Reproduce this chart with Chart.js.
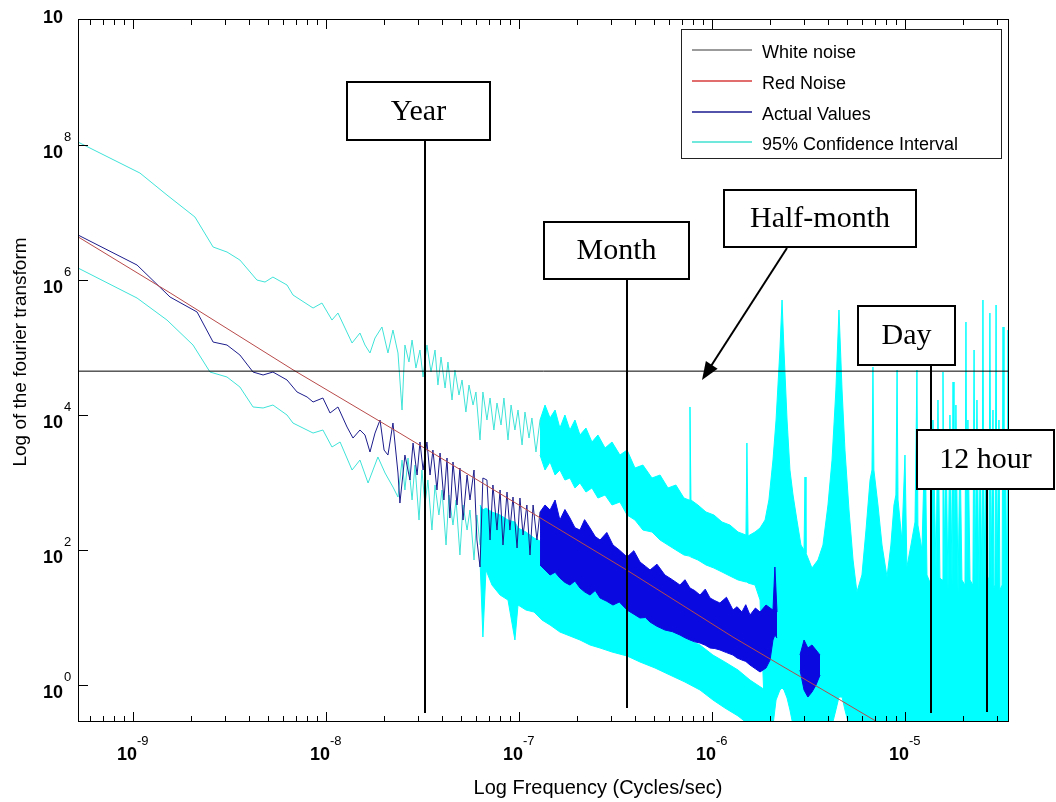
<!DOCTYPE html>
<html>
<head>
<meta charset="utf-8">
<title>Spectrum - log of the fourier transform</title>
<script src="https://cdn.jsdelivr.net/npm/chart.js@4.4.1/dist/chart.umd.min.js"></script>
<style>
  html, body { margin: 0; padding: 0; background: #fff; }
  #wrap { width: 1056px; height: 802px; }
</style>
</head>
<body>
<div id="wrap"><canvas id="spec" width="1056" height="802"></canvas></div>
<script>
// All readings are in decades (log10): [log10 freq, log10 power]
// bands are [log10 freq, low edge, high edge] of the dense noisy parts
const xRange = [-9.285, -4.461];
const yRange = [-0.548, 9.867];
const xTickExps = [-9, -8, -7, -6, -5];
const yTickExps = [0, 2, 4, 6, 8, 10];

const whiteNoise = [[-9.285, 4.65], [-4.461, 4.65]];

const redNoise = [
  [-9.285, 6.64], [-8.808, 5.81], [-8.171, 4.67], [-7.617, 3.73], [-6.440, 1.70],
  [-5.891, 0.71], [-5.648, 0.30], [-5.337, -0.22], [-4.461, -1.70],
];

const actualLine = [
  [-9.285, 6.667], [-8.979, 6.222], [-8.808, 5.748], [-8.668, 5.526], [-8.585, 5.081],
  [-8.513, 5.037], [-8.446, 4.889], [-8.378, 4.637], [-8.326, 4.593], [-8.275, 4.637],
  [-8.202, 4.519], [-8.150, 4.341], [-8.098, 4.267], [-8.067, 4.193], [-8.016, 4.252],
  [-7.979, 4.030], [-7.938, 4.119], [-7.891, 3.822], [-7.860, 3.659], [-7.824, 3.778],
  [-7.798, 3.704], [-7.772, 3.452], [-7.746, 3.733], [-7.720, 3.926], [-7.699, 3.481],
  [-7.679, 3.407], [-7.653, 3.881], [-7.627, 3.141], [-7.617, 2.696], [-7.591, 3.407],
  [-7.565, 3.037], [-7.549, 3.585], [-7.528, 3.111], [-7.513, 3.600], [-7.497, 3.185],
  [-7.477, 3.600], [-7.461, 3.111], [-7.446, 3.481], [-7.425, 2.889], [-7.409, 3.437],
  [-7.389, 2.741], [-7.373, 3.363], [-7.358, 2.474], [-7.342, 3.304], [-7.321, 2.667],
  [-7.306, 3.215], [-7.290, 2.444], [-7.269, 3.111], [-7.254, 2.741], [-7.233, 3.185],
  [-7.218, 2.148], [-7.202, 1.748], [-7.187, 3.067], [-7.166, 3.037], [-7.150, 2.148],
  [-7.135, 2.963], [-7.114, 2.296], [-7.098, 2.889], [-7.083, 2.074], [-7.062, 2.859],
  [-7.047, 2.296], [-7.031, 2.785], [-7.010, 2.030], [-6.995, 2.770], [-6.979, 2.222],
  [-6.959, 2.667], [-6.943, 1.926], [-6.927, 2.667], [-6.907, 2.148], [-6.891, 2.563],
];

const actualBand = [
  [-6.891, 1.778, 2.563], [-6.865, 1.704, 2.667], [-6.839, 1.630, 2.593], [-6.813, 1.670, 2.741],
  [-6.788, 1.585, 2.444], [-6.762, 1.520, 2.600], [-6.736, 1.481, 2.474], [-6.710, 1.540, 2.330],
  [-6.684, 1.437, 2.296], [-6.660, 1.380, 2.450], [-6.632, 1.333, 2.326], [-6.605, 1.400, 2.200],
  [-6.580, 1.289, 2.148], [-6.545, 1.240, 2.260], [-6.513, 1.185, 2.074], [-6.480, 1.230, 2.000],
  [-6.440, 1.111, 1.896], [-6.405, 1.050, 1.990], [-6.373, 0.993, 1.822], [-6.345, 1.000, 1.760],
  [-6.321, 0.933, 1.704], [-6.285, 0.870, 1.790], [-6.244, 0.815, 1.630], [-6.205, 0.790, 1.560],
  [-6.166, 0.741, 1.481], [-6.140, 0.700, 1.560], [-6.114, 0.667, 1.437], [-6.090, 0.640, 1.400],
  [-6.062, 0.622, 1.333], [-6.035, 0.590, 1.420], [-6.010, 0.548, 1.289], [-5.985, 0.540, 1.250],
  [-5.959, 0.519, 1.215], [-5.925, 0.480, 1.300], [-5.891, 0.444, 1.111], [-5.870, 0.400, 1.160],
  [-5.845, 0.370, 1.081], [-5.825, 0.350, 1.190], [-5.803, 0.296, 1.037], [-5.775, 0.240, 1.140],
  [-5.751, 0.193, 1.081], [-5.720, 0.252, 1.185], [-5.699, 0.370, 1.141], [-5.684, 0.667, 1.111],
  [-5.674, 0.741, 1.748], [-5.663, 0.696, 1.081],
];

const actualCluster = [
  [-5.544, 0.222, 0.444], [-5.523, -0.074, 0.667], [-5.503, -0.178, 0.548],
  [-5.482, -0.104, 0.593], [-5.461, 0.000, 0.519], [-5.440, 0.148, 0.444],
];

const ciUpperLine = [
  [-9.285, 8.044], [-8.964, 7.585], [-8.824, 7.259], [-8.679, 6.933], [-8.585, 6.489],
  [-8.513, 6.415], [-8.446, 6.296], [-8.358, 6.000], [-8.316, 5.970], [-8.275, 6.044],
  [-8.202, 5.926], [-8.171, 5.778], [-8.067, 5.585], [-8.021, 5.659], [-7.969, 5.407],
  [-7.938, 5.511], [-7.865, 5.067], [-7.824, 5.215], [-7.798, 5.037], [-7.772, 4.919],
  [-7.746, 5.141], [-7.710, 5.304], [-7.679, 4.919], [-7.653, 5.259], [-7.627, 4.919],
  [-7.606, 4.074], [-7.591, 5.037], [-7.570, 4.785], [-7.554, 5.111], [-7.534, 4.696],
  [-7.513, 4.963], [-7.497, 4.563], [-7.477, 5.037], [-7.456, 4.637], [-7.435, 4.963],
  [-7.420, 4.444], [-7.404, 4.859], [-7.383, 4.400], [-7.368, 4.785], [-7.347, 4.222],
  [-7.332, 4.667], [-7.311, 4.296], [-7.295, 4.519], [-7.275, 4.044], [-7.259, 4.444],
  [-7.238, 4.148], [-7.223, 4.341], [-7.202, 3.630], [-7.187, 4.341], [-7.166, 3.926],
  [-7.150, 4.252], [-7.130, 3.778], [-7.114, 4.178], [-7.093, 3.852], [-7.078, 4.252],
  [-7.057, 3.630], [-7.041, 4.148], [-7.021, 3.778], [-7.005, 4.074], [-6.984, 3.556],
  [-6.969, 4.044], [-6.948, 3.659], [-6.933, 3.956], [-6.912, 3.452], [-6.891, 3.926],
];

const ciLowerLine = [
  [-9.285, 6.178], [-8.979, 5.733], [-8.824, 5.407], [-8.689, 5.037], [-8.601, 4.637],
  [-8.513, 4.563], [-8.446, 4.415], [-8.378, 4.119], [-8.326, 4.104], [-8.275, 4.148],
  [-8.202, 4.000], [-8.171, 3.881], [-8.067, 3.733], [-8.016, 3.778], [-7.969, 3.526],
  [-7.927, 3.600], [-7.865, 3.185], [-7.824, 3.333], [-7.782, 2.993], [-7.731, 3.378],
  [-7.694, 3.141], [-7.653, 2.933], [-7.627, 2.785], [-7.606, 3.333], [-7.591, 2.889],
  [-7.575, 3.363], [-7.554, 2.741], [-7.539, 3.259], [-7.518, 2.444], [-7.503, 3.185],
  [-7.487, 2.667], [-7.472, 3.037], [-7.451, 2.296], [-7.435, 2.963], [-7.415, 2.519],
  [-7.399, 2.889], [-7.378, 2.074], [-7.363, 2.815], [-7.342, 2.370], [-7.326, 2.741],
  [-7.306, 1.926], [-7.290, 2.667], [-7.269, 2.296], [-7.254, 2.593], [-7.233, 1.852],
  [-7.218, 2.519], [-7.202, 2.074],
];

const ciLowerBand = [
  [-7.202, 1.852, 2.667], [-7.187, 0.711, 2.593], [-7.171, 1.704, 2.622], [-7.140, 1.481, 2.563],
  [-7.098, 1.333, 2.519], [-7.057, 1.259, 2.444], [-7.021, 0.667, 2.415], [-7.005, 1.185, 2.326],
  [-6.964, 1.111, 2.267], [-6.922, 1.081, 2.178], [-6.881, 0.963, 2.119], [-6.839, 0.889, 2.030],
  [-6.788, 0.785, 1.956], [-6.736, 0.726, 1.881], [-6.684, 0.667, 1.822], [-6.632, 0.593, 1.733],
  [-6.580, 0.548, 1.674], [-6.518, 0.489, 1.556], [-6.440, 0.430, 1.407], [-6.373, 0.341, 1.259],
  [-6.295, 0.252, 1.081], [-6.218, 0.148, 0.889], [-6.140, 0.044, 0.696], [-6.062, -0.074, 0.593],
  [-5.995, -0.222, 0.444], [-5.933, -0.341, 0.341], [-5.865, -0.459, 0.222], [-5.803, -0.6, 0.074],
  [-5.725, -0.6, -0.074],
];

// upper interval, merging into the daily / tidal harmonics on the right
const ciUpperBand = [
  [-6.891, 3.407, 3.926], [-6.865, 3.185, 4.148], [-6.839, 3.304, 3.956], [-6.813, 3.111, 4.074],
  [-6.788, 3.185, 3.807], [-6.762, 3.037, 4.000], [-6.736, 3.067, 3.778], [-6.710, 2.919, 3.926],
  [-6.684, 2.993, 3.704], [-6.653, 2.859, 3.807], [-6.622, 2.919, 3.600], [-6.591, 2.770, 3.704],
  [-6.554, 2.815, 3.511], [-6.518, 2.667, 3.600], [-6.477, 2.711, 3.407], [-6.440, 2.519, 3.481],
  [-6.399, 2.444, 3.215], [-6.358, 2.296, 3.259], [-6.311, 2.267, 3.067], [-6.269, 2.148, 3.111],
  [-6.228, 2.074, 2.919], [-6.187, 2.000, 2.963], [-6.145, 1.926, 2.770], [-6.119, 1.911, 2.741],
  [-6.114, 1.911, 4.119], [-6.109, 1.896, 2.741], [-6.073, 1.852, 2.667], [-6.031, 1.778, 2.563],
  [-5.990, 1.733, 2.519], [-5.948, 1.674, 2.415], [-5.907, 1.615, 2.370], [-5.865, 1.556, 2.267],
  [-5.824, 1.526, 2.222], [-5.819, 1.526, 3.585], [-5.813, 1.511, 2.207], [-5.777, 1.481, 2.267],
  [-5.751, 1.259, 2.326], [-5.725, -0.6, 2.444], [-5.705, -0.6, 2.741], [-5.684, -0.6, 3.333],
  [-5.668, -0.222, 3.926], [-5.648, -0.074, 4.963], [-5.637, -0.044, 5.704], [-5.627, -0.074, 4.963],
  [-5.611, -0.193, 3.926], [-5.596, -0.370, 3.185], [-5.580, -0.6, 2.815], [-5.560, -0.6, 2.444],
  [-5.539, -0.6, 2.074], [-5.523, -0.6, 2.000], [-5.518, -0.6, 3.081], [-5.513, -0.6, 1.956],
  [-5.482, -0.6, 1.733], [-5.451, -0.6, 1.852], [-5.425, -0.6, 2.074], [-5.399, -0.6, 2.667],
  [-5.378, -0.6, 3.333], [-5.358, -0.370, 4.370], [-5.342, -0.178, 5.556], [-5.326, -0.178, 4.370],
  [-5.311, -0.370, 3.481], [-5.290, -0.6, 2.593], [-5.269, -0.6, 1.852], [-5.249, -0.6, 1.378],
  [-5.223, -0.6, 1.630], [-5.202, -0.6, 2.296], [-5.181, -0.6, 3.037], [-5.171, -0.6, 3.185],
  [-5.166, -0.6, 4.711], [-5.161, -0.6, 3.185], [-5.140, -0.6, 2.667], [-5.119, -0.6, 2.074],
  [-5.093, -0.6, 1.600], [-5.073, -0.6, 2.074], [-5.057, -0.6, 2.667], [-5.047, -0.6, 2.815],
  [-5.041, -0.6, 4.667], [-5.036, -0.6, 2.741], [-5.016, -0.6, 2.148], [-5.000, -0.6, 3.407],
  [-4.990, -0.6, 1.748], [-4.969, -0.6, 2.074], [-4.948, -0.6, 2.415], [-4.938, -0.6, 4.667],
  [-4.933, -0.6, 2.370], [-4.912, -0.6, 2.000], [-4.896, -0.6, 3.778], [-4.886, -0.6, 1.630],
  [-4.865, -0.6, 1.481], [-4.855, -0.6, 3.926], [-4.839, -0.6, 1.704], [-4.829, -0.6, 4.222],
  [-4.819, -0.6, 1.585], [-4.808, -0.6, 1.556], [-4.803, -0.6, 4.637], [-4.798, -0.6, 1.630],
  [-4.788, -0.6, 3.778], [-4.777, -0.6, 1.407], [-4.767, -0.6, 4.000], [-4.756, -0.6, 1.481],
  [-4.751, -0.6, 4.489], [-4.746, -0.6, 1.481], [-4.736, -0.6, 4.148], [-4.725, -0.6, 1.378],
  [-4.715, -0.6, 3.630], [-4.705, -0.6, 1.556], [-4.689, -0.6, 1.481], [-4.684, -0.6, 5.378],
  [-4.679, -0.6, 1.481], [-4.674, -0.6, 3.926], [-4.663, -0.6, 1.556], [-4.648, -0.6, 1.481],
  [-4.642, -0.6, 4.963], [-4.637, -0.6, 1.556], [-4.627, -0.6, 4.222], [-4.617, -0.6, 1.378],
  [-4.611, -0.6, 3.481], [-4.601, -0.6, 1.481], [-4.596, -0.6, 5.704], [-4.591, -0.6, 1.481],
  [-4.580, -0.6, 3.778], [-4.575, -0.6, 1.630], [-4.565, -0.6, 1.556], [-4.560, -0.6, 5.511],
  [-4.554, -0.6, 1.556], [-4.544, -0.6, 4.074], [-4.539, -0.6, 1.437], [-4.534, -0.6, 1.481],
  [-4.528, -0.6, 5.630], [-4.523, -0.6, 1.585], [-4.513, -0.6, 3.926], [-4.508, -0.6, 1.407],
  [-4.497, -0.6, 1.481], [-4.492, -0.6, 5.304], [-4.487, -0.6, 1.481], [-4.482, -0.6, 3.778],
  [-4.472, -0.6, 1.556], [-4.466, -0.6, 5.259], [-4.461, -0.6, 1.556],
];

// text boxes pasted on the figure (canvas px), lines hang at a frequency
const marks = [
  { text: 'Year', freqExp: -7.487, box: [347, 82, 143, 58], lineEnd: 713 },
  { text: 'Month', freqExp: -6.440, box: [544, 222, 145, 57], lineEnd: 708 },
  { text: 'Half-month', freqExp: null, box: [724, 190, 192, 57], arrow: [787, 248, 702, 380] },
  { text: 'Day', freqExp: -4.865, box: [858, 306, 97, 59], lineEnd: 713 },
  { text: '12 hour', freqExp: -4.575, box: [917, 430, 137, 59], lineEnd: 712 },
];

const CYAN = '#00ffff';
const CYAN_LINE = '#3fe3d8';
const NAVY = '#1c1c8c';
const BLUE = '#0a0ae0';
const RED = '#b84a4a';

const toPts = rows => rows.map(r => ({ x: 10 ** r[0], y: 10 ** r[1] }));
const hiPts = rows => rows.map(r => ({ x: 10 ** r[0], y: 10 ** r[2] }));
const loPts = rows => rows.map(r => ({ x: 10 ** r[0], y: 10 ** r[1] }));

function line(label, data, color, order, extra) {
  return Object.assign({
    label, data, borderColor: color, backgroundColor: color,
    borderWidth: 1, pointRadius: 0, tension: 0, fill: false, order,
  }, extra || {});
}

const datasets = [
  line('White noise', toPts(whiteNoise), '#000', 1, { legendColor: '#7a7a7a' }),
  line('Red Noise', toPts(redNoise), RED, 2, { legendColor: '#d83c3c' }),
  line('Actual Values', toPts(actualLine), NAVY, 3, { legendColor: '#1a1a90' }),
  line('', hiPts(actualBand), BLUE, 3, { fill: '+1' }),
  line('', loPts(actualBand), BLUE, 3),
  line('', hiPts(actualCluster), BLUE, 3, { fill: '+1' }),
  line('', loPts(actualCluster), BLUE, 3),
  line('95% Confidence Interval', toPts(ciUpperLine), CYAN_LINE, 5, { legendColor: '#40e0d0' }),
  line('', toPts(ciLowerLine), CYAN_LINE, 5),
  line('', hiPts(ciLowerBand), CYAN, 5, { fill: '+1' }),
  line('', loPts(ciLowerBand), CYAN, 5),
  line('', hiPts(ciUpperBand), CYAN, 5, { fill: '+1' }),
  line('', loPts(ciUpperBand), CYAN, 5),
];

const SANS = '"Liberation Sans", Arial, Helvetica, sans-serif';
const SERIF = '"Liberation Serif", "Times New Roman", serif';

// axes box, MATLAB-style inner ticks, 10^n labels, annotations, legend
const framePlugin = {
  id: 'frame',
  afterDatasetsDraw(chart) {
    const { ctx, chartArea: a } = chart;
    const xs = chart.scales.x, ys = chart.scales.y;
    ctx.save();
    ctx.strokeStyle = '#000';
    ctx.lineWidth = 1;
    ctx.strokeRect(a.left + 0.5, a.top + 0.5, a.right - a.left - 1, a.bottom - a.top - 1);

    // x ticks (major + minor), top and bottom
    ctx.beginPath();
    for (let e = -10; e <= -5; e++) {
      for (let k = 1; k <= 9; k++) {
        const v = k * 10 ** e;
        if (v < 10 ** xRange[0] || v > 10 ** xRange[1]) continue;
        const px = Math.round(xs.getPixelForValue(v)) + 0.5;
        const len = k === 1 ? 10 : 6;
        ctx.moveTo(px, a.bottom); ctx.lineTo(px, a.bottom - len);
        ctx.moveTo(px, a.top); ctx.lineTo(px, a.top + len);
      }
    }
    yTickExps.forEach(d => {
      const py = Math.round(ys.getPixelForValue(10 ** d)) + 0.5;
      if (py < a.top || py > a.bottom) return;
      ctx.moveTo(a.left, py); ctx.lineTo(a.left + 10, py);
    });
    ctx.stroke();

    // tick labels
    ctx.fillStyle = '#000';
    ctx.textBaseline = 'middle';
    xTickExps.forEach(e => {
      const px = xs.getPixelForValue(10 ** e);
      ctx.font = `bold 18px ${SANS}`;
      ctx.textAlign = 'right';
      ctx.fillText('10', px + 4, 755);
      ctx.font = `13px ${SANS}`;
      ctx.textAlign = 'left';
      ctx.fillText(String(e), px + 4, 741);
    });
    yTickExps.forEach(d => {
      const py = ys.getPixelForValue(10 ** d);
      ctx.font = `bold 18px ${SANS}`;
      ctx.textAlign = 'right';
      ctx.fillText('10', 63, py + 8);
      if (py - 8 > 6) {
        ctx.font = `13px ${SANS}`;
        ctx.textAlign = 'left';
        ctx.fillText(String(d), 64, py - 8);
      }
    });

    // axis titles
    ctx.font = `20px ${SANS}`;
    ctx.textAlign = 'center';
    ctx.fillText('Log Frequency (Cycles/sec)', 598, 788);
    ctx.save();
    ctx.translate(21, 352);
    ctx.rotate(-Math.PI / 2);
    ctx.font = `19px ${SANS}`;
    ctx.fillText('Log of the fourier transform', 0, 0);
    ctx.restore();

    // annotation lines + boxes
    marks.forEach(m => {
      const [bx, by, bw, bh] = m.box;
      ctx.lineWidth = 2;
      ctx.strokeStyle = '#000';
      if (m.freqExp !== null) {
        const px = Math.round(xs.getPixelForValue(10 ** m.freqExp));
        ctx.beginPath();
        ctx.moveTo(px, by + bh);
        ctx.lineTo(px, m.lineEnd);
        ctx.stroke();
      }
      if (m.arrow) {
        const [x1, y1, x2, y2] = m.arrow;
        const ang = Math.atan2(y2 - y1, x2 - x1);
        ctx.beginPath();
        ctx.moveTo(x1, y1);
        ctx.lineTo(x2 - 14 * Math.cos(ang), y2 - 14 * Math.sin(ang));
        ctx.stroke();
        ctx.beginPath();
        ctx.moveTo(x2, y2);
        ctx.lineTo(x2 - 18 * Math.cos(ang) + 7 * Math.sin(ang), y2 - 18 * Math.sin(ang) - 7 * Math.cos(ang));
        ctx.lineTo(x2 - 18 * Math.cos(ang) - 7 * Math.sin(ang), y2 - 18 * Math.sin(ang) + 7 * Math.cos(ang));
        ctx.closePath();
        ctx.fill();
      }
      ctx.fillStyle = '#fff';
      ctx.fillRect(bx, by, bw, bh);
      ctx.strokeRect(bx, by, bw, bh);
      ctx.fillStyle = '#000';
      ctx.font = `30px ${SERIF}`;
      ctx.textAlign = 'center';
      ctx.fillText(m.text, bx + bw / 2, by + bh / 2 + 1);
    });

    // legend
    const items = chart.data.datasets.filter(ds => ds.legendColor);
    ctx.fillStyle = '#fff';
    ctx.fillRect(681, 29, 320, 129);
    ctx.lineWidth = 1;
    ctx.strokeStyle = '#222';
    ctx.strokeRect(681.5, 29.5, 320, 129);
    const rows = [53, 84, 115, 145];
    items.forEach((ds, i) => {
      ctx.strokeStyle = ds.legendColor;
      ctx.lineWidth = 1.5;
      ctx.beginPath();
      ctx.moveTo(692, rows[i] - 3);
      ctx.lineTo(752, rows[i] - 3);
      ctx.stroke();
      ctx.fillStyle = '#000';
      ctx.font = `18px ${SANS}`;
      ctx.textAlign = 'left';
      ctx.fillText(ds.label, 762, rows[i]);
    });
    ctx.restore();
  },
};

new Chart(document.getElementById('spec'), {
  type: 'line',
  data: { datasets },
  options: {
    responsive: false,
    animation: false,
    devicePixelRatio: 1,
    layout: { padding: { left: 0, right: 47, top: 19, bottom: 0 } },
    plugins: { legend: { display: false }, tooltip: { enabled: false } },
    scales: {
      x: {
        type: 'logarithmic', min: 10 ** xRange[0], max: 10 ** xRange[1],
        ticks: { display: false }, grid: { display: false }, border: { display: false },
        afterFit: s => { s.height = 80; },
      },
      y: {
        type: 'logarithmic', min: 10 ** yRange[0], max: 10 ** yRange[1],
        ticks: { display: false }, grid: { display: false }, border: { display: false },
        afterFit: s => { s.width = 78; },
      },
    },
  },
  plugins: [framePlugin],
});
</script>
</body>
</html>
